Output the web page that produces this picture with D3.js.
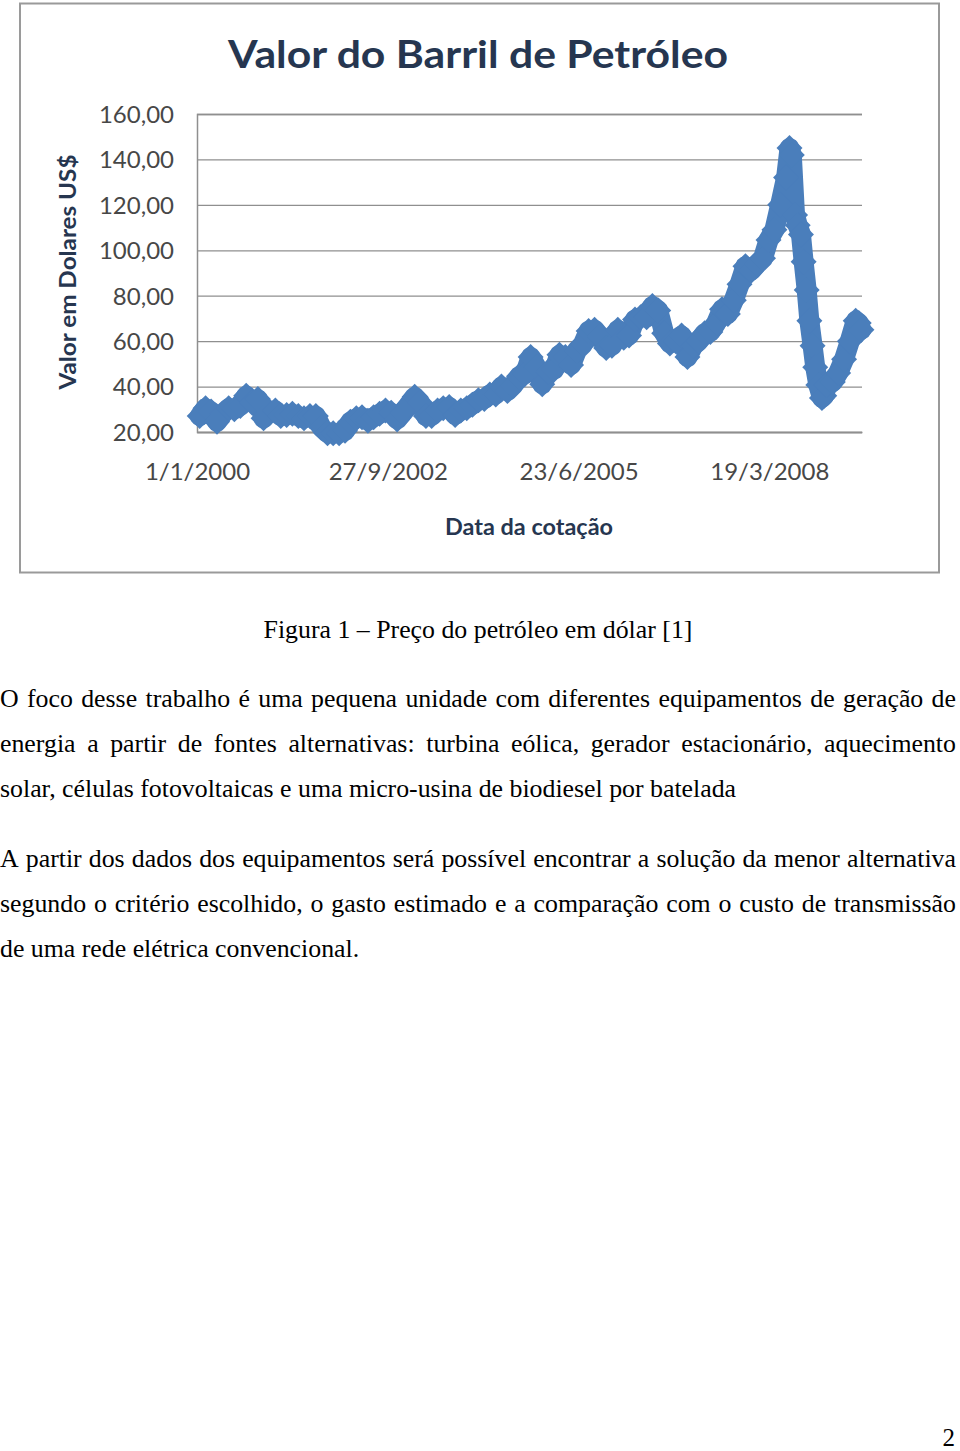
<!DOCTYPE html>
<html><head><meta charset="utf-8">
<script src="https://cdn.jsdelivr.net/npm/d3@7"></script>
<style>
html,body{margin:0;padding:0;background:#fff;}
svg{display:block;}
</style></head><body>
<svg id="page" width="960" height="1451"></svg>
<script>
// ---------- DATA ----------
const dates = [
"2000-01-15","2000-02-15","2000-03-15","2000-04-15","2000-05-15","2000-06-15","2000-07-15","2000-08-15","2000-09-15","2000-10-15","2000-11-15","2000-12-15",
"2001-01-15","2001-02-15","2001-03-15","2001-04-15","2001-05-15","2001-06-15","2001-07-15","2001-08-15","2001-09-15","2001-10-15","2001-11-15","2001-12-15",
"2002-01-15","2002-02-15","2002-03-15","2002-04-15","2002-05-15","2002-06-15","2002-07-15","2002-08-15","2002-09-15","2002-10-15","2002-11-15","2002-12-15",
"2003-01-15","2003-02-15","2003-03-15","2003-04-15","2003-05-15","2003-06-15","2003-07-15","2003-08-15","2003-09-15","2003-10-15","2003-11-15","2003-12-15",
"2004-01-15","2004-02-15","2004-03-15","2004-04-15","2004-05-15","2004-06-15","2004-07-15","2004-08-15","2004-09-15","2004-10-15","2004-11-15","2004-12-15",
"2005-01-15","2005-02-15","2005-03-15","2005-04-15","2005-05-15","2005-06-15","2005-07-15","2005-08-15","2005-09-15","2005-10-15","2005-11-15","2005-12-15",
"2006-01-15","2006-02-15","2006-03-15","2006-04-15","2006-05-15","2006-06-15","2006-07-15","2006-08-15","2006-09-15","2006-10-15","2006-11-15","2006-12-15",
"2007-01-15","2007-02-15","2007-03-15","2007-04-15","2007-05-15","2007-06-15","2007-07-15","2007-08-15","2007-09-15","2007-10-15","2007-11-15","2007-12-15",
"2008-01-15","2008-02-15","2008-03-15","2008-04-15","2008-05-15","2008-06-15","2008-07-03","2008-07-15","2008-08-01","2008-08-15","2008-09-01","2008-09-15",
"2008-10-01","2008-10-15","2008-11-01","2008-11-15","2008-12-01","2008-12-20",
"2009-01-01","2009-01-15","2009-02-15","2009-03-15","2009-04-15","2009-05-15","2009-06-15","2009-07-01","2009-07-15"
];
const prices = [
27.0,30.5,29.0,24.5,28.0,30.5,30.0,31.5,36.0,33.0,34.5,26.0,
29.0,29.5,27.0,27.5,28.0,27.0,26.0,27.0,27.0,22.0,19.5,19.5,
19.5,20.5,24.5,26.0,26.5,25.0,26.5,28.0,29.5,28.5,25.5,28.5,
32.0,35.5,33.0,27.0,27.0,29.5,30.5,31.0,27.5,29.5,30.5,32.0,
34.0,34.5,36.5,36.5,40.0,38.0,40.5,44.5,45.5,53.0,48.5,41.0,
46.5,47.5,54.0,53.0,49.5,56.0,58.5,64.5,65.0,62.0,57.0,58.0,
65.0,61.5,62.5,69.5,70.5,70.5,75.5,73.5,63.5,59.0,60.0,62.5,
53.0,58.0,60.0,63.5,64.0,68.0,74.0,72.0,78.0,85.0,93.0,91.0,
94.0,96.5,104.5,109.0,120.0,132.0,145.0,142.0,115.5,111.0,107.0,95.0,
82.5,69.0,58.0,48.5,40.7,35.0,
36.0,40.7,42.0,46.0,52.0,60.0,69.0,68.0,65.0
];
const yTicks = [20,40,60,80,100,120,140,160];
const xTickDates = ["2000-01-01","2002-09-27","2005-06-23","2008-03-19"];
const xTickLabels = ["1/1/2000","27/9/2002","23/6/2005","19/3/2008"];
const xDomain = ["2000-01-01","2009-07-18"];
const chartTitle = "Valor do Barril de Petróleo";
const yTitle = "Valor em Dolares US$";
const xTitle = "Data da cotação";
const caption = "Figura 1 – Preço do petróleo em dólar [1]";
const paragraph1 = [
"O foco desse trabalho é uma pequena unidade com diferentes equipamentos de geração de",
"energia a partir de fontes alternativas: turbina eólica, gerador estacionário, aquecimento",
"solar, células fotovoltaicas e uma micro-usina de biodiesel por batelada"];
const paragraph2 = [
"A partir dos dados dos equipamentos será possível encontrar a solução da menor alternativa",
"segundo o critério escolhido, o gasto estimado e a comparação com o custo de transmissão",
"de uma rede elétrica convencional."];
const pageNumber = "2";

// ---------- SETUP ----------
const svg = d3.select("#page");
const parse = d3.utcParse("%Y-%m-%d");
const data = dates.map((d,i)=>({date:parse(d), value:prices[i]}));
const ptBR = d3.formatLocale({decimal:",", thousands:".", grouping:[3], currency:["R$",""]});
const fmt = ptBR.format(".2f");

const plot = {left:197, right:862, top:114, bottom:432};
const x = d3.scaleUtc().domain(xDomain.map(parse)).range([plot.left, plot.right]);
const y = d3.scaleLinear().domain([20,160]).range([plot.bottom, plot.top]);

const sansFont = "Lato, 'Open Sans', sans-serif";
const titleColor = "#263650";
const tickColor = "#474747";
const gridColor = "#8f8f8f";
const seriesColor = "#4a7ebb";

function fit(sel, w){
  sel.attr("textLength", w).attr("lengthAdjust","spacingAndGlyphs");
}

// chart frame
svg.append("rect").attr("x",20).attr("y",3.5).attr("width",919).attr("height",569)
  .attr("fill","#fff").attr("stroke","#9a9a9a").attr("stroke-width",2);

// title
svg.append("text").attr("x",478).attr("y",68).attr("text-anchor","middle")
  .attr("font-family",sansFont).attr("font-weight","bold").attr("font-size",38)
  .attr("fill",titleColor).text(chartTitle).call(fit,500);

// gridlines (y axis)
const yAxis = d3.axisLeft(y).tickValues(yTicks).tickSize(-(plot.right-plot.left)).tickPadding(23).tickFormat(fmt);
const gy = svg.append("g").attr("transform",`translate(${plot.left},0)`).call(yAxis);
gy.select(".domain").attr("stroke",gridColor).attr("stroke-width",1.5);
gy.selectAll(".tick line").attr("stroke",gridColor).attr("stroke-width",1.3);
gy.selectAll(".tick text").attr("font-family",sansFont).attr("font-size",24)
  .attr("fill",tickColor).attr("dy","0.35em");

// x axis
const xAxis = d3.axisBottom(x).tickValues(xTickDates.map(parse)).tickSize(0).tickPadding(31)
  .tickFormat((d,i)=>xTickLabels[i]);
const gx = svg.append("g").attr("transform",`translate(0,${plot.bottom})`).call(xAxis);
gx.select(".domain").attr("stroke",gridColor).attr("stroke-width",1.5);
gx.selectAll(".tick text").attr("font-family",sansFont).attr("font-size",24)
  .attr("fill",tickColor).attr("dy","0.71em");

// axis titles
svg.append("text").attr("transform","translate(76,272) rotate(-90)").attr("text-anchor","middle")
  .attr("font-family",sansFont).attr("font-weight","bold").attr("font-size",22)
  .attr("fill",titleColor).text(yTitle).call(fit,235);
svg.append("text").attr("x",529).attr("y",535).attr("text-anchor","middle")
  .attr("font-family",sansFont).attr("font-weight","bold").attr("font-size",23)
  .attr("fill",titleColor).text(xTitle).call(fit,168);

// series: line + diamond markers
const line = d3.line().x(d=>x(d.date)).y(d=>y(d.value));
svg.append("path").datum(data).attr("d",line).attr("fill","none")
  .attr("stroke",seriesColor).attr("stroke-width",20).attr("stroke-linejoin","round").attr("stroke-linecap","round");
const r = 13;
svg.append("g").selectAll("path").data(data).join("path")
  .attr("transform",d=>`translate(${x(d.date)},${y(d.value)})`)
  .attr("d",`M0,${-r}L${r},0L0,${r}L${-r},0Z`).attr("fill",seriesColor);

// ---------- BODY TEXT ----------
const serif = "'Liberation Serif','Times New Roman',serif";
const fs = 26;
function natWidth(str){
  const t = svg.append("text").attr("font-family",serif).attr("font-size",fs).text(str);
  const w = t.node().getComputedTextLength(); t.remove(); return w;
}
const sx = 429 / natWidth(caption);

// caption
svg.append("text").attr("transform",`translate(478,638) scale(${sx},1)`).attr("text-anchor","middle")
  .attr("font-family",serif).attr("font-size",fs).attr("fill","#000").text(caption);

function drawLine(str, baseline, justify){
  if(!justify){
    svg.append("text").attr("transform",`translate(0,${baseline}) scale(${sx},1)`)
      .attr("font-family",serif).attr("font-size",fs).attr("fill","#000").text(str);
    return;
  }
  const words = str.split(" ");
  const ws = words.map(w=>natWidth(w)*sx);
  const total = d3.sum(ws);
  const gap = (956 - total)/(words.length-1);
  let cx = 0;
  words.forEach((w,i)=>{
    svg.append("text").attr("transform",`translate(${cx},${baseline}) scale(${sx},1)`)
      .attr("font-family",serif).attr("font-size",fs).attr("fill","#000").text(w);
    cx += ws[i] + gap;
  });
}
paragraph1.forEach((l,i)=>drawLine(l, 707 + i*45, i<paragraph1.length-1));
paragraph2.forEach((l,i)=>drawLine(l, 867 + i*45, i<paragraph2.length-1));

svg.append("text").attr("x",955).attr("y",1446).attr("text-anchor","end")
  .attr("font-family",serif).attr("font-size",25).attr("fill","#000").text(pageNumber);
</script>
</body></html>
